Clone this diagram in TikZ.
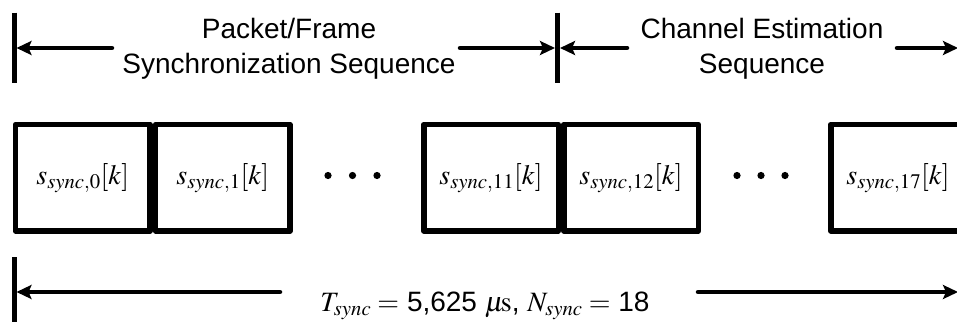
\documentclass[tikz,border=0pt]{standalone}
\usepackage{mathptmx}
\usepackage[no-math]{fontspec}
\setmainfont{Liberation Sans}
\usetikzlibrary{arrows.meta}
\begin{document}
\begin{tikzpicture}[x=1pt,y=-1pt,
  bar/.style={line width=5pt},
  dim/.style={line width=4.5pt, line cap=round, -{Stealth[length=15pt,width=14pt,inset=3pt]}},
  cell/.style={draw, line width=5.5pt, line join=round, minimum width=134.5pt, minimum height=106.5pt, inner sep=0pt, font=\fontsize{28}{32}\selectfont},
  lbl/.style={align=center, inner sep=0pt, font=\fontsize{28}{35}\selectfont},
  dotc/.style={fill=black}]
\useasboundingbox (0,0) rectangle (957,321);
\clip (0,0) rectangle (957,321);
% top dimension
\coordinate (barLt) at (14.2,12.7);
\coordinate (barLb) at (14.2,83);
\coordinate (barMt) at (557.5,12.7);
\coordinate (barMb) at (557.5,83);
\draw[bar] (barLt) -- (barLb);
\draw[bar] (barMt) -- (barMb);
\node[lbl] (sync) at (289,49.2) {Packet/Frame\\Synchronization Sequence};
\node[lbl] (chan) at (762,49.2) {Channel Estimation\\Sequence};
\coordinate (a1s) at (112,48);
\coordinate (a1e) at (16.5,48);
\coordinate (a2s) at (460,48);
\coordinate (a2e) at (555,48);
\coordinate (a3s) at (627,48);
\coordinate (a3e) at (560,48);
\coordinate (a4s) at (897,48);
\coordinate (a4e) at (958,48);
\draw[dim] (a1s) -- (a1e);
\draw[dim] (a2s) -- (a2e);
\draw[dim] (a3s) -- (a3e);
\draw[dim] (a4s) -- (a4e);
% cells
\node[cell] (b0) at (82.75,177.75) {$s_{sync,0}[k]$};
\node[cell, anchor=west] (b1) at (b0.east) {$s_{sync,1}[k]$};
\node[cell] (b11) at (491,177.75) {$s_{sync,11}[k]$};
\node[cell, anchor=west] (b12) at (b11.east) {$s_{sync,12}[k]$};
\node[cell] (b17) at (898,177.75) {$s_{sync,17}[k]$};
\foreach \x in {328,352.5,377,737,761,785} \fill[dotc] (\x,175.5) circle (3.6pt);
% bottom dimension
\coordinate (barBt) at (14.2,257);
\coordinate (barBb) at (14.2,325);
\draw[bar] (barBt) -- (barBb);
\node[inner sep=0pt, anchor=base, font=\fontsize{28}{32}\selectfont] (tot) at (485,311.7) {$T_{sync} =$ 5,625 $\mu\!\mathrm{s}$, $N_{sync} =$ 18};
\coordinate (b1s) at (280,292);
\coordinate (b1e) at (16.5,292);
\coordinate (b2s) at (698,292);
\coordinate (b2e) at (958,292);
\draw[dim] (b1s) -- (b1e);
\draw[dim] (b2s) -- (b2e);
\end{tikzpicture}
\end{document}
